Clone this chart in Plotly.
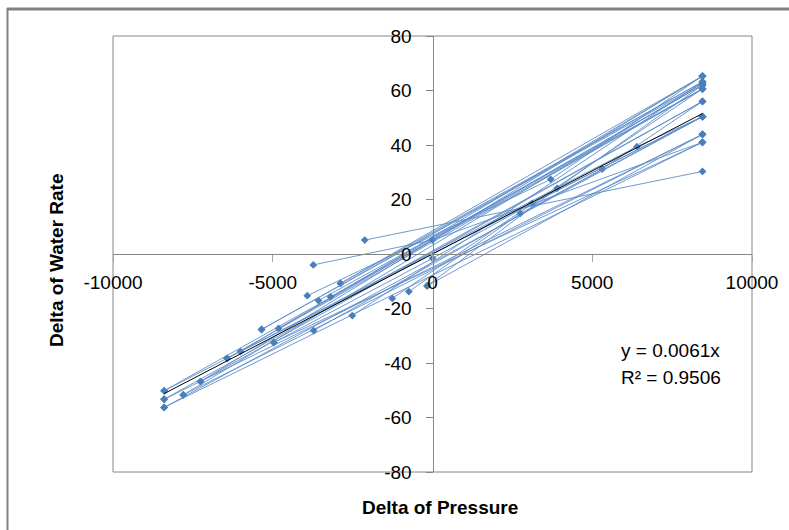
import plotly.graph_objects as go

# ---------------- data ----------------
S01_X = [-8400, 6400, 8450];        S01_Y = [-50.2, 39.4, 50.4]
S02_X = [-8400, 8450];              S02_Y = [-50.2, 60.6]
S03_X = [-8400, 8450];              S03_Y = [-53.3, 43.9]
S04_X = [-8400, 8450];              S04_Y = [-53.3, 56.0]
S05_X = [-8400, 8450];              S05_Y = [-56.3, 41.0]
S06_X = [-8400, 8450];              S06_Y = [-56.3, 50.4]
S07_X = [-7800, 8450];              S07_Y = [-51.7, 62.6]
S08_X = [-7800, 8450];              S08_Y = [-51.7, 43.9]
S09_X = [-7260, 8450];              S09_Y = [-46.8, 56.0]
S10_X = [-7260, 8450];              S10_Y = [-46.8, 65.3]
S11_X = [-6430, 8450];              S11_Y = [-38.3, 60.5]
S12_X = [-6010, 8450];              S12_Y = [-35.8, 65.3]
S13_X = [-5350, 8450];              S13_Y = [-27.7, 63.2]
S14_X = [-4820, 8450];              S14_Y = [-27.3, 62.0]
S15_X = [-4970, 0, 3120, 8450];     S15_Y = [-32.5, -1.6, 18.6, 50.4]
S16_X = [-3920, 3700, 8450];        S16_Y = [-15.3, 27.4, 65.3]
S17_X = [-3570, 8450];              S17_Y = [-17.1, 60.6]
S18_X = [-3190, 8450];              S18_Y = [-15.7, 62.0]
S19_X = [-2880, 8450];              S19_Y = [-10.8, 63.2]
S20_X = [-3720, 5310, 8450];        S20_Y = [-28.1, 31.2, 56.0]
S21_X = [-2510, 8450];              S21_Y = [-22.6, 63.2]
S22_X = [-1260, 8450];              S22_Y = [-16.3, 60.6]
S23_X = [-740, 2750, 8450];         S23_Y = [-13.8, 14.9, 50.4]
S24_X = [-170, 3900, 8450];         S24_Y = [-11.7, 24.1, 62.0]
S25_X = [-3730, 0, 8450];           S25_Y = [-4.0, 5.1, 41.0]
S26_X = [-2120, 8450];              S26_Y = [5.1, 30.3]
S27_X = [-170, 8450];               S27_Y = [-11.7, 43.9]
S28_X = [-4970, 8450];              S28_Y = [-32.5, 41.0]
S29_X = [-6430, 8450];              S29_Y = [-38.3, 50.4]
S30_X = [-2880, 8450];              S30_Y = [-10.8, 65.3]
S31_X = [-5350, 8450];              S31_Y = [-27.7, 62.6]

SERIES = [
    (S01_X, S01_Y), (S02_X, S02_Y), (S03_X, S03_Y), (S04_X, S04_Y),
    (S05_X, S05_Y), (S06_X, S06_Y), (S07_X, S07_Y), (S08_X, S08_Y),
    (S09_X, S09_Y), (S10_X, S10_Y), (S11_X, S11_Y), (S12_X, S12_Y),
    (S13_X, S13_Y), (S14_X, S14_Y), (S15_X, S15_Y), (S16_X, S16_Y),
    (S17_X, S17_Y), (S18_X, S18_Y), (S19_X, S19_Y), (S20_X, S20_Y),
    (S21_X, S21_Y), (S22_X, S22_Y), (S23_X, S23_Y), (S24_X, S24_Y),
    (S25_X, S25_Y), (S26_X, S26_Y), (S27_X, S27_Y), (S28_X, S28_Y),
    (S29_X, S29_Y), (S30_X, S30_Y), (S31_X, S31_Y),
]

TREND_SLOPE = 0.0061
TREND_LABEL = "y = 0.0061x"
R2_LABEL = "R² = 0.9506"

X_TICKS = [-10000, -5000, 0, 5000, 10000]
X_TICK_LABELS = ["-10000", "-5000", "0", "5000", "10000"]
Y_TICKS = [-80, -60, -40, -20, 0, 20, 40, 60, 80]
Y_TICK_LABELS = ["-80", "-60", "-40", "-20", "0", "20", "40", "60", "80"]

X_TITLE = "Delta of Pressure"
Y_TITLE = "Delta of Water Rate"

# ---------------- figure ----------------
W, H = 789, 530
L, R, T, B = 113, 37, 36, 58   # plot area 113..752 x 36..472
PW, PH = W - L - R, H - T - B

def px_x(p):  # pixel -> paper x
    return (p - L) / PW

def px_y(p):  # pixel -> paper y
    return (H - B - p) / PH

BLUE = "#4A7EBB"
LINE_BLUE = "#5F8DC9"
FONT = "Liberation Sans"

fig = go.Figure()
for xs, ys in SERIES:
    fig.add_trace(go.Scatter(
        x=xs, y=ys, mode="lines+markers",
        line=dict(color=LINE_BLUE, width=0.9),
        marker=dict(symbol="diamond", size=6, color=BLUE),
        showlegend=False, hoverinfo="skip",
    ))

all_x = [v for xs, _ in SERIES for v in xs]
tx = [min(all_x), max(all_x)]
fig.add_trace(go.Scatter(
    x=tx, y=[TREND_SLOPE * v for v in tx], mode="lines",
    line=dict(color="black", width=1), showlegend=False, hoverinfo="skip",
))

fig.update_xaxes(
    range=[-10000, 10000], tickvals=X_TICKS, ticktext=X_TICK_LABELS,
    anchor="free", position=0.5, side="bottom",
    showline=True, linecolor="#868686", linewidth=1,
    ticks="outside", ticklen=7, tickcolor="#A6A6A6", tickwidth=1,
    showgrid=False, zeroline=False,
    tickfont=dict(family=FONT, size=19, color="black"),
    ticklabelstandoff=4,
)
fig.update_yaxes(
    range=[-80, 80], tickvals=Y_TICKS, ticktext=Y_TICK_LABELS,
    anchor="free", position=0.5, side="left",
    showline=True, linecolor="#868686", linewidth=1,
    ticks="outside", ticklen=7, tickcolor="#868686", tickwidth=1,
    showgrid=False, zeroline=False,
    tickfont=dict(family=FONT, size=19, color="black"),
    ticklabelstandoff=10,
)

shapes = [
    dict(type="rect", xref="paper", yref="paper", x0=0, x1=1, y0=0, y1=1,
         line=dict(color="#868686", width=1), layer="below"),
    dict(type="line", xref="paper", yref="paper",
         x0=px_x(7), x1=px_x(W + 2), y0=px_y(9), y1=px_y(9),
         line=dict(color="#808080", width=3)),
    dict(type="line", xref="paper", yref="paper",
         x0=px_x(7.5), x1=px_x(7.5), y0=px_y(8), y1=px_y(H + 2),
         line=dict(color="#808080", width=2)),
]

annotations = [
    dict(text=X_TITLE, xref="paper", yref="paper", x=px_x(440), y=px_y(507),
         xanchor="center", yanchor="middle", showarrow=False,
         font=dict(family=FONT, size=19, color="black", weight="bold")),
    dict(text=Y_TITLE, xref="paper", yref="paper", x=px_x(56), y=px_y(260),
         xanchor="center", yanchor="middle", showarrow=False, textangle=-90,
         font=dict(family=FONT, size=19, color="black", weight="bold")),
    dict(text=TREND_LABEL, xref="paper", yref="paper", x=px_x(619), y=px_y(350),
         xanchor="left", yanchor="middle", showarrow=False,
         font=dict(family=FONT, size=19, color="black")),
    dict(text=R2_LABEL, xref="paper", yref="paper", x=px_x(619), y=px_y(377),
         xanchor="left", yanchor="middle", showarrow=False,
         font=dict(family=FONT, size=19, color="black")),
]

fig.update_layout(
    width=W, height=H,
    margin=dict(l=L, r=R, t=T, b=B, pad=0),
    paper_bgcolor="white", plot_bgcolor="white",
    shapes=shapes, annotations=annotations,
    showlegend=False,
)

fig.write_html("out.html")
